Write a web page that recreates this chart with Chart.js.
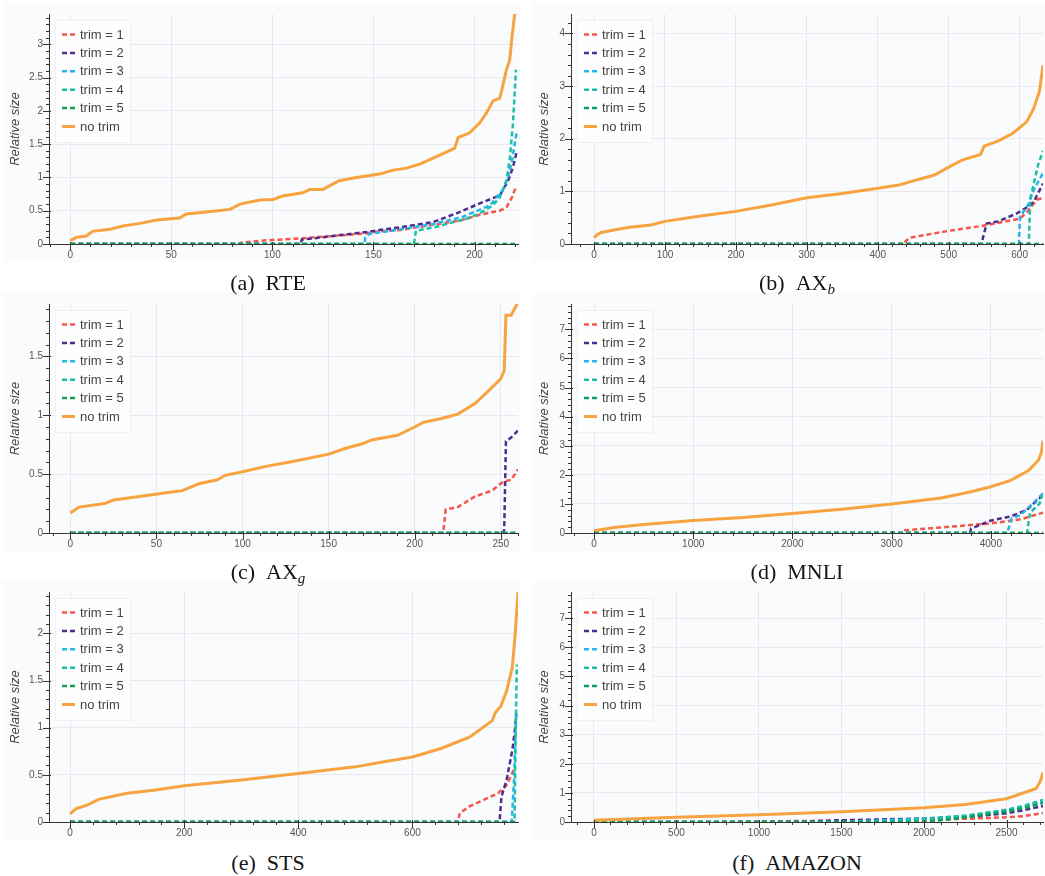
<!DOCTYPE html>
<html>
<head>
<meta charset="utf-8">
<script src="https://cdn.jsdelivr.net/npm/chart.js@4.4.1/dist/chart.umd.min.js"></script>
<style>
  body { margin: 0; background: #fff; width: 1045px; height: 876px; position: relative; overflow: hidden; }
  canvas { position: absolute; background: #fafbfc; }
  .cap { position: absolute; transform: translate(-50%, -50%); white-space: nowrap;
         font-family: "Liberation Serif", "Times New Roman", serif; font-size: 22px; color: #151515; }
  .cap .sub { font-size: 15px; font-style: italic; position: relative; top: 4px; }
</style>
</head>
<body>
<canvas id="rte"></canvas>
<canvas id="axb"></canvas>
<canvas id="axg"></canvas>
<canvas id="mnli"></canvas>
<canvas id="sts"></canvas>
<canvas id="amz"></canvas>

<div class="cap" style="left:268px;top:283px">(a)&ensp;RTE</div>
<div class="cap" style="left:797px;top:283px">(b)&ensp;AX<span class="sub">b</span></div>
<div class="cap" style="left:268px;top:572px">(c)&ensp;AX<span class="sub">g</span></div>
<div class="cap" style="left:797px;top:572px">(d)&ensp;MNLI</div>
<div class="cap" style="left:268px;top:863px">(e)&ensp;STS</div>
<div class="cap" style="left:797px;top:863px">(f)&ensp;AMAZON</div>

<script>
// series: [rank, relative size]
const labels = ['trim = 1', 'trim = 2', 'trim = 3', 'trim = 4', 'trim = 5', 'no trim'];

// (a) RTE
const rteXTicks = [0, 50, 100, 150, 200];
const rteYTicks = [0, 0.5, 1, 1.5, 2, 2.5, 3];
const rteNoTrim = [[0,0.05],[3,0.1],[8,0.12],[11,0.19],[19.6,0.22],[26,0.27],[34.5,0.31],[42.7,0.36],[54,0.39],[57.5,0.45],[67.4,0.48],[79,0.52],[84,0.6],[93.8,0.66],[100.4,0.67],[105,0.72],[115,0.77],[118.5,0.82],[125,0.82],[133,0.95],[141.6,1.0],[146.5,1.02],[153,1.05],[159.8,1.11],[166.3,1.14],[172.9,1.2],[179.5,1.29],[186,1.38],[190.2,1.44],[191.9,1.6],[197.6,1.67],[202.6,1.82],[205.9,1.97],[209.2,2.15],[212.5,2.19],[214.1,2.39],[215.8,2.62],[217.4,2.76],[218.6,3.13],[219.9,3.46]];
const rteTrim1 = [[0,0],[84,0],[84.5,0.02],[97,0.055],[113.6,0.085],[130,0.12],[146.5,0.16],[153,0.19],[163,0.21],[179.5,0.29],[192.7,0.35],[202.6,0.44],[209,0.48],[212.5,0.5],[215.8,0.55],[218.5,0.7],[220.5,0.86]];
const rteTrim2 = [[0,0],[114,0],[114.5,0.065],[130,0.12],[146.5,0.18],[153,0.21],[163,0.25],[179.5,0.33],[191,0.46],[202.6,0.61],[212.5,0.73],[216.6,0.95],[219,1.15],[220.8,1.38]];
const rteTrim3 = [[0,0],[145.5,0],[146,0.1],[148,0.15],[163,0.22],[179.5,0.3],[194.4,0.41],[207.6,0.58],[214,0.81],[216.5,1.0],[218.5,1.25],[220.8,1.67]];
const rteTrim4 = [[0,0],[170,0],[171,0.2],[180,0.25],[196,0.38],[202.6,0.46],[209,0.58],[212.5,0.7],[215.8,0.95],[217.5,1.3],[219,1.8],[220.5,2.62]];
const rteTrim5 = [[0,0],[221,0]];

// (b) AX_b
const axbXTicks = [0, 100, 200, 300, 400, 500, 600];
const axbYTicks = [0, 1, 2, 3, 4];
const axbNoTrim = [[0,0.12],[5,0.18],[10,0.22],[30,0.27],[50,0.32],[80,0.36],[100,0.43],[150,0.53],[200,0.62],[250,0.74],[300,0.88],[350,0.96],[400,1.06],[430,1.12],[450,1.2],[480,1.31],[500,1.46],[520,1.6],[545,1.7],[550,1.86],[570,1.96],[590,2.1],[610,2.32],[620,2.58],[628,2.9],[633,3.4]];
const axbTrim1 = [[0,0],[438,0],[439,0.05],[445,0.12],[500,0.25],[550,0.35],[600,0.48],[610,0.6],[620,0.77],[626,0.85],[633,0.87]];
const axbTrim2 = [[0,0],[547,0],[548,0.1],[553.6,0.39],[570,0.43],[596,0.58],[612,0.71],[620,0.8],[633,1.15]];
const axbTrim3 = [[0,0],[599,0],[600.5,0.52],[612,0.74],[619,1.0],[633,1.35]];
const axbTrim4 = [[0,0],[613,0],[615,0.85],[626,1.5],[633,1.77]];
const axbTrim5 = [[0,0],[633,0]];

// (c) AX_g
const axgXTicks = [0, 50, 100, 150, 200, 250];
const axgYTicks = [0, 0.5, 1, 1.5];
const axgNoTrim = [[0,0.17],[5,0.22],[20,0.25],[25,0.28],[40,0.31],[60,0.35],[65,0.36],[75,0.42],[85,0.45],[90,0.49],[100,0.52],[115,0.57],[130,0.61],[150,0.67],[160,0.72],[170,0.76],[175,0.79],[190,0.83],[200,0.9],[205,0.94],[215,0.97],[225,1.01],[235,1.1],[243,1.21],[250,1.31],[252,1.38],[253,1.85],[256,1.85],[260,1.96]];
const axgTrim1 = [[0,0],[216.5,0],[217,0.06],[218,0.2],[225,0.22],[235,0.31],[245,0.36],[250,0.42],[252,0.44],[256,0.45],[260,0.54]];
const axgTrim2 = [[0,0],[251.5,0],[252,0.03],[253,0.78],[256,0.81],[260,0.87]];
const axgTrim3 = [[0,0],[260,0]];
const axgTrim4 = [[0,0],[260,0]];
const axgTrim5 = [[0,0],[260,0]];

// (d) MNLI
const mnliXTicks = [0, 1000, 2000, 3000, 4000];
const mnliYTicks = [0, 1, 2, 3, 4, 5, 6, 7];
const mnliNoTrim = [[0,0.08],[200,0.19],[500,0.29],[1000,0.43],[1500,0.53],[2000,0.67],[2500,0.82],[3000,1.0],[3500,1.2],[3800,1.42],[4000,1.59],[4200,1.81],[4380,2.15],[4480,2.5],[4510,2.77],[4526,3.17]];
const mnliTrim1 = [[0,0],[3100,0],[3110,0.09],[3500,0.19],[4000,0.33],[4300,0.47],[4526,0.7]];
const mnliTrim2 = [[0,0],[3790,0],[3800,0.15],[3992,0.42],[4200,0.57],[4361,0.79],[4493,1.2],[4526,1.3]];
const mnliTrim3 = [[0,0],[4165,0],[4210,0.5],[4300,0.62],[4420,1.0],[4526,1.36]];
const mnliTrim4 = [[0,0],[4365,0],[4395,0.7],[4490,1.0],[4526,1.4]];
const mnliTrim5 = [[0,0],[4526,0]];

// (e) STS
const stsXTicks = [0, 200, 400, 600];
const stsYTicks = [0, 0.5, 1, 1.5, 2];
const stsNoTrim = [[0,0.085],[10,0.14],[30,0.18],[50,0.24],[100,0.305],[150,0.34],[200,0.385],[300,0.445],[400,0.515],[500,0.585],[550,0.64],[600,0.69],[650,0.78],[700,0.9],[740,1.075],[745,1.16],[755,1.23],[765,1.39],[775,1.64],[780,1.99],[785,2.44]];
const stsTrim1 = [[0,0],[680,0],[681,0.04],[683,0.095],[700,0.165],[725,0.235],[750,0.305],[765,0.39],[780,0.585]];
const stsTrim2 = [[0,0],[752,0],[753,0.025],[756,0.27],[765,0.445],[775,0.76],[780,1.0],[782,1.15]];
const stsTrim3 = [[0,0],[774,0],[778,0.445],[782,1.15]];
const stsTrim4 = [[0,0],[779,0],[781,1.0],[783,1.67]];
const stsTrim5 = [[0,0],[785,0]];

// (f) AMAZON
const amzXTicks = [0, 500, 1000, 1500, 2000, 2500];
const amzYTicks = [0, 1, 2, 3, 4, 5, 6, 7];
const amzNoTrim = [[0,0.06],[500,0.16],[1000,0.25],[1500,0.35],[2000,0.49],[2250,0.6],[2500,0.8],[2680,1.15],[2705,1.4],[2721,1.7]];
const amzTrim1 = [[0,0],[700,0],[1000,0.02],[1500,0.05],[2000,0.08],[2250,0.11],[2500,0.16],[2600,0.2],[2721,0.31]];
const amzTrim2 = [[0,0],[1200,0],[1500,0.06],[2000,0.12],[2250,0.17],[2500,0.3],[2600,0.4],[2721,0.55]];
const amzTrim3 = [[0,0],[1500,0],[1800,0.07],[2000,0.12],[2250,0.2],[2500,0.38],[2600,0.5],[2721,0.7]];
const amzTrim4 = [[0,0],[1800,0],[2000,0.1],[2250,0.22],[2500,0.42],[2600,0.55],[2721,0.76]];
const amzTrim5 = [[0,0],[2000,0],[2200,0.12],[2500,0.36],[2600,0.47],[2721,0.65]];

const COLORS = ['#f4564a', '#4e2d8c', '#22b5ee', '#1dbfa5', '#0e9f5b', '#f7a440'];
const AXIS = '#3b3330';
const GRID = '#e6e9ed';
const FONT = '"Liberation Sans", Arial, sans-serif';

Chart.defaults.font.family = FONT;

// bokeh-like major / minor tick marks, placed through the chart's scales
const tickMarks = {
    id: 'tickMarks',
    afterDraw(chart, args, opts) {
        const { ctx, chartArea: a, scales: { x, y } } = chart;
        ctx.save();
        ctx.strokeStyle = AXIS;
        ctx.lineWidth = 1;
        const line = (scale, v, out, inn, horiz) => {
            const p = Math.round(scale.getPixelForValue(v)) + 0.5;
            ctx.beginPath();
            if (horiz) { ctx.moveTo(p, a.bottom - inn); ctx.lineTo(p, a.bottom + out); }
            else { ctx.moveTo(a.left - out, p); ctx.lineTo(a.left + inn, p); }
            ctx.stroke();
        };
        const minor = (scale, step, horiz) => {
            for (let k = Math.ceil(scale.min / step); k * step <= scale.max + 1e-9; k++) line(scale, k * step, 3, 0, horiz);
        };
        minor(x, opts.xMinor, true);
        minor(y, opts.yMinor, false);
        x.ticks.forEach(t => line(x, t.value, 6, 2, true));
        y.ticks.forEach(t => line(y, t.value, 6, 2, false));
        ctx.restore();
    }
};

// legend drawn inside the plot frame, top-left
const frameLegend = {
    id: 'frameLegend',
    afterDatasetsDraw(chart) {
        const { ctx, chartArea: a } = chart;
        const x0 = a.left + 6, y0 = a.top + 6;
        ctx.save();
        ctx.fillStyle = 'rgba(255,255,255,0.8)';
        ctx.fillRect(x0, y0, 75, 122);
        ctx.strokeStyle = '#eef0f2';
        ctx.lineWidth = 1;
        ctx.strokeRect(x0 + 0.5, y0 + 0.5, 75, 122);
        ctx.font = '13px ' + FONT;
        ctx.textBaseline = 'middle';
        chart.data.datasets.forEach((ds, i) => {
            const cy = y0 + 14.5 + i * 18.4;
            ctx.strokeStyle = ds.borderColor;
            ctx.lineWidth = ds.borderWidth;
            ctx.setLineDash(ds.borderDash || []);
            ctx.beginPath();
            ctx.moveTo(x0 + 7, cy);
            ctx.lineTo(x0 + 20, cy);
            ctx.stroke();
            ctx.setLineDash([]);
            ctx.fillStyle = '#444';
            ctx.fillText(ds.label, x0 + 25, cy + 0.5);
        });
        ctx.restore();
    }
};

const ROWS = [{ top: 12, bottom: 244 }, { top: 302, bottom: 533 }, { top: 590, bottom: 822 }];
const COLS = [{ canvasLeft: 3, plotLeft: 49, right: 520, titlePad: 5 },
              { canvasLeft: 533, plotLeft: 571, right: 1045, titlePad: 4 }];

const panels = [
    { id: 'rte', row: 0, col: 0, series: [rteTrim1, rteTrim2, rteTrim3, rteTrim4, rteTrim5, rteNoTrim],
      xMin: -10.5, xMax: 221.5, xTicks: rteXTicks, xMinor: 10, yMax: 3.455, yTicks: rteYTicks, yMinor: 0.1 },
    { id: 'axb', row: 0, col: 1, series: [axbTrim1, axbTrim2, axbTrim3, axbTrim4, axbTrim5, axbNoTrim],
      xMin: -32.5, xMax: 633, xTicks: axbXTicks, xMinor: 20, yMax: 4.37, yTicks: axbYTicks, yMinor: 0.2 },
    { id: 'axg', row: 1, col: 0, series: [axgTrim1, axgTrim2, axgTrim3, axgTrim4, axgTrim5, axgNoTrim],
      xMin: -12.4, xMax: 260, xTicks: axgXTicks, xMinor: 10, yMax: 1.945, yTicks: axgYTicks, yMinor: 0.1 },
    { id: 'mnli', row: 1, col: 1, series: [mnliTrim1, mnliTrim2, mnliTrim3, mnliTrim4, mnliTrim5, mnliNoTrim],
      xMin: -232, xMax: 4526, xTicks: mnliXTicks, xMinor: 200, yMax: 7.87, yTicks: mnliYTicks, yMinor: 0.2 },
    { id: 'sts', row: 2, col: 0, series: [stsTrim1, stsTrim2, stsTrim3, stsTrim4, stsTrim5, stsNoTrim],
      xMin: -37, xMax: 785, xTicks: stsXTicks, xMinor: 40, yMax: 2.44, yTicks: stsYTicks, yMinor: 0.1 },
    { id: 'amz', row: 2, col: 1, series: [amzTrim1, amzTrim2, amzTrim3, amzTrim4, amzTrim5, amzNoTrim],
      xMin: -139, xMax: 2721, xTicks: amzXTicks, xMinor: 100, yMax: 7.9, yTicks: amzYTicks, yMinor: 0.2 }
];

panels.forEach(p => {
    const r = ROWS[p.row], c = COLS[p.col];
    const canvas = document.getElementById(p.id);
    const w = c.right - c.canvasLeft, h = r.bottom - r.top + 28;
    canvas.width = w; canvas.height = h;
    canvas.style.left = c.canvasLeft + 'px';
    canvas.style.top = (r.top - 10) + 'px';
    canvas.style.width = w + 'px';
    canvas.style.height = h + 'px';

    const datasets = p.series.map((pts, i) => ({
        label: labels[i],
        data: pts.map(([x, y]) => ({ x, y })),
        borderColor: COLORS[i],
        borderWidth: i === 5 ? 3 : 2.5,
        borderDash: i === 5 ? [] : [5, 3],
        pointRadius: 0,
        tension: 0,
        fill: false,
        clip: 0,
        order: 5 - i
    }));

    new Chart(canvas, {
        type: 'line',
        data: { datasets },
        options: {
            responsive: false,
            animation: false,
            events: [],
            layout: { padding: { top: 10, right: 2, left: 0, bottom: 0 } },
            plugins: {
                legend: { display: false },
                tooltip: { enabled: false },
                tickMarks: { xMinor: p.xMinor, yMinor: p.yMinor }
            },
            scales: {
                x: {
                    type: 'linear', min: p.xMin, max: p.xMax,
                    afterBuildTicks: s => { s.ticks = p.xTicks.map(v => ({ value: v })); },
                    afterFit: s => { s.height = 18; },
                    border: { color: AXIS, width: 1 },
                    grid: { color: GRID, drawTicks: false },
                    ticks: { padding: 5, maxRotation: 0, autoSkip: false,
                             color: '#555', font: { size: 10 }, callback: v => String(v) }
                },
                y: {
                    type: 'linear', min: 0, max: p.yMax,
                    afterBuildTicks: s => { s.ticks = p.yTicks.map(v => ({ value: v })); },
                    afterFit: s => { s.width = c.plotLeft - c.canvasLeft; },
                    border: { color: AXIS, width: 1 },
                    grid: { color: GRID, drawTicks: false },
                    ticks: { padding: 6, autoSkip: false,
                             color: '#555', font: { size: 10 }, callback: v => String(v) },
                    title: { display: true, text: 'Relative size', color: '#444',
                             font: { size: 13, style: 'italic' }, padding: { top: c.titlePad, bottom: 0 } }
                }
            }
        },
        plugins: [tickMarks, frameLegend]
    });
});
</script>
</body>
</html>
